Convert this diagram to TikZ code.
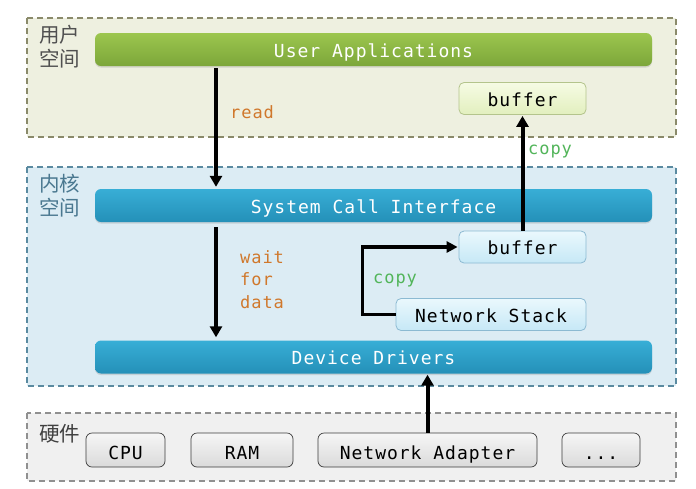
\documentclass[tikz,border=0pt]{standalone}
\usepackage{fontspec}
\newfontfamily\cjk{Noto Sans CJK SC}
\newfontfamily\mono[LetterSpace=5.5]{DejaVu Sans Mono}
\usetikzlibrary{arrows.meta,shadows}
\definecolor{ufill}{HTML}{EEF0E0}
\definecolor{uedge}{HTML}{8A8A6A}
\definecolor{kfill}{HTML}{DCECF4}
\definecolor{kedge}{HTML}{5A8AA0}
\definecolor{hfill}{HTML}{F0F0F0}
\definecolor{hedge}{HTML}{909090}
\definecolor{gtop}{HTML}{9CC64E}
\definecolor{gbot}{HTML}{7CA63A}
\definecolor{btop}{HTML}{38AED6}
\definecolor{bbot}{HTML}{2490B8}
\definecolor{orangelbl}{HTML}{D0782C}
\definecolor{greenlbl}{HTML}{52B55A}
\definecolor{ubedge}{HTML}{B4C48C}
\definecolor{ubtop}{HTML}{F6FBE4}
\definecolor{ubbot}{HTML}{E2EFBE}
\definecolor{kbedge}{HTML}{8CBAD2}
\definecolor{kbtop}{HTML}{EAF8FD}
\definecolor{kbbot}{HTML}{C6E8F6}
\definecolor{hbedge}{HTML}{3C3C3C}
\definecolor{hbtop}{HTML}{F6F6F6}
\definecolor{hbbot}{HTML}{DADADA}
\definecolor{zhu}{HTML}{505050}
\definecolor{zhk}{HTML}{4A7890}
\definecolor{zhh}{HTML}{404040}
\begin{document}
\begin{tikzpicture}[x=1pt,y=-1pt,
  region/.style={dash pattern=on 6pt off 4pt, line width=1.1pt},
  bar/.style={rounded corners=6pt, minimum width=557pt, minimum height=33pt, inner sep=0pt,
    text height=15pt, text depth=0pt,
    text=white, font=\mono\fontsize{18}{20}\selectfont,
    drop shadow={shadow xshift=0pt, shadow yshift=-1.5pt, opacity=0.25}},
  greenbar/.style={bar, top color=gtop, bottom color=gbot},
  bluebar/.style={bar, top color=btop, bottom color=bbot},
  smallbox/.style={rounded corners=5pt, minimum height=32pt, inner sep=0pt,
    text height=15.5pt, text depth=0pt,
    font=\mono\fontsize{18}{20}\selectfont, line width=0.8pt},
  ubox/.style={smallbox, draw=ubedge, top color=ubtop, bottom color=ubbot},
  kbox/.style={smallbox, draw=kbedge, top color=kbtop, bottom color=kbbot},
  hbox/.style={rounded corners=6pt, minimum height=34pt, inner sep=0pt, draw=hbedge, line width=0.7pt,
    text height=19pt, text depth=0pt,
    top color=hbtop, bottom color=hbbot, font=\mono\fontsize{18}{20}\selectfont},
  arr/.style={line width=4pt, -{Triangle[width=12pt,length=11pt]}},
  lbl/.style={font=\mono\fontsize{17}{20}\selectfont, inner sep=0pt, anchor=west},
  zh/.style={font=\cjk\fontsize{20.5}{24}\selectfont, inner sep=0pt, align=left, anchor=north west}
]
\useasboundingbox (0,0) rectangle (696,488);
\fill[white] (0,0) rectangle (696,488);

% regions
\draw[region, fill=ufill, draw=uedge] (27,18) rectangle (676,137);
\draw[region, fill=kfill, draw=kedge] (27,167) rectangle (676,386);
\draw[region, fill=hfill, draw=hedge] (27,413) rectangle (676,481);

\node[zh, text=zhu] (zu) at (39,25) {用户\\空间};
\node[zh, text=zhk] (zk) at (39,174) {内核\\空间};
\node[zh, text=zhh] (zh1) at (39,424) {硬件};

% bars
\node[greenbar] (ua) at (373.5,49.5) {User Applications};
\node[bluebar] (sci) at (373.5,205.5) {System Call Interface};
\node[bluebar] (dd) at (373.5,357) {Device Drivers};

% small boxes
\node[ubox, minimum width=127pt] (ubuf) at (522.5,98.5) {buffer};
\node[kbox, minimum width=127pt] (kbuf) at (522.5,247) {buffer};
\node[kbox, minimum width=190pt] (ns) at (491,314.5) {Network Stack};

% hardware
\node[hbox, minimum width=79pt] (cpu) at (125.5,450) {CPU};
\node[hbox, minimum width=102pt] (ram) at (242,450) {RAM};
\node[hbox, minimum width=219pt] (na) at (427.5,450) {Network Adapter};
\node[hbox, minimum width=78pt] (dots) at (601,450) {...};

% arrows
\coordinate (xr) at (216,0);
\draw[arr, shorten <=2pt, shorten >=2pt] (ua.south -| xr) -- (sci.north -| xr);
\draw[arr, shorten <=5pt, shorten >=3pt] (sci.south -| xr) -- (dd.north -| xr);
\draw[arr, shorten >=1pt] (kbuf.north) -- (ubuf.south);
\draw[arr, shorten >=1pt, line width=3.5pt, -{Triangle[width=11pt,length=11pt]}] (ns.west) -- ++(-33,0) |- (kbuf.west);
\draw[arr, shorten >=1pt] (na.north) -- (dd.south -| na.north);

% labels
\node[lbl, text=orangelbl] (lread) at (230,112) {read};
\node[lbl, text=orangelbl, align=left, font=\mono\fontsize{17}{22.5}\selectfont, anchor=north west] (lwait) at (240,250) {wait\\for\\data};
\node[lbl, text=greenlbl] (lcopy1) at (528,152) {copy};
\node[lbl, text=greenlbl] (lcopy2) at (373,281) {copy};
\end{tikzpicture}
\end{document}
